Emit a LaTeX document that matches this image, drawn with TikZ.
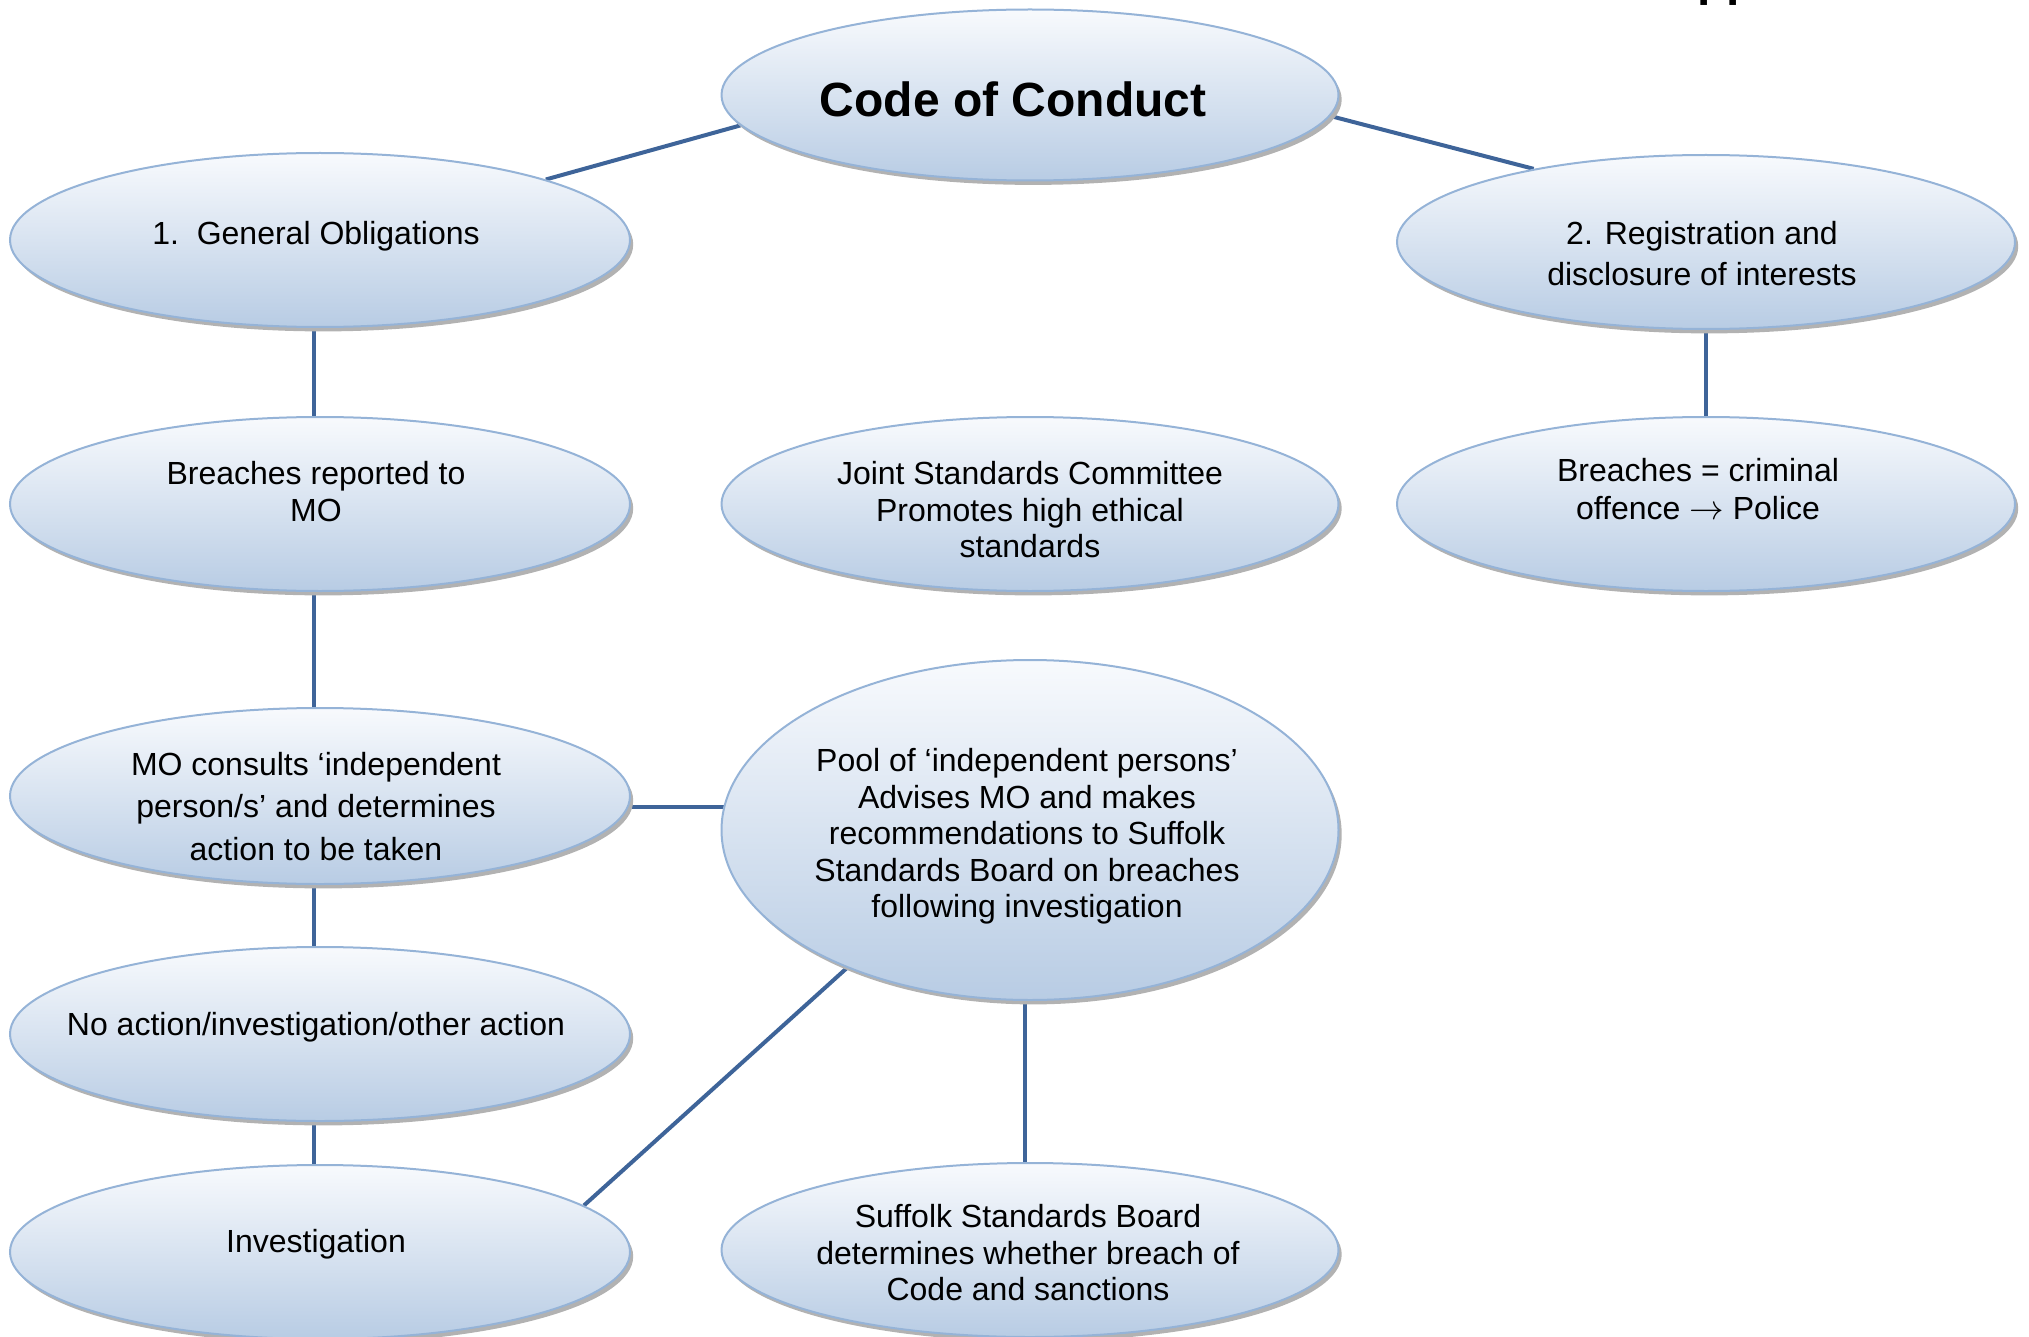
\documentclass[tikz,border=0pt]{standalone}
\usepackage{fontspec}
\setmainfont{Liberation Sans}
\usetikzlibrary{shapes.geometric,shadows,backgrounds}
\definecolor{elborder}{HTML}{95B3D7}
\definecolor{eltop}{HTML}{F8FAFD}
\definecolor{elbot}{HTML}{B8CCE4}
\definecolor{conn}{HTML}{3E6499}
\tikzset{
  bubble/.style={ellipse, draw=elborder, line width=1pt, top color=eltop, bottom color=elbot,
    inner sep=0pt, minimum width=309pt, minimum height=87pt,
    drop shadow={shadow xshift=1.6pt, shadow yshift=-2.2pt, fill=gray!60, opacity=1}},
  txt/.style={inner sep=0pt, align=center, font=\fontsize{16}{18.3}\selectfont},
  bigtxt/.style={inner sep=0pt, align=center, font=\bfseries\fontsize{24}{28}\selectfont},
  link/.style={draw=conn, line width=2pt}
}
\begin{document}
\begin{tikzpicture}[x=0.5pt,y=-0.5pt]
\useasboundingbox (0,0) rectangle (2029,1337);
\begin{scope}
\clip (0,0) rectangle (2029,1337);
\node[bigtxt, anchor=base west] (app) at (1662,-4) {Appendix};
\end{scope}
% ellipses
\node[bubble, minimum width=308.5pt, minimum height=85.5pt] (code) at (1030,95) {};
\node[bubble, minimum width=310pt] (gen) at (320,240) {};
\node[bubble] (reg) at (1706,242) {};
\node[bubble, minimum width=310pt] (brep) at (320,504) {};
\node[bubble, minimum width=308.5pt] (jsc) at (1030,504) {};
\node[bubble] (crim) at (1706,504) {};
\node[bubble, minimum width=310pt, minimum height=88pt] (mo) at (320,796) {};
\node[bubble, minimum width=308.5pt, minimum height=170pt] (pool) at (1030,830) {};
\node[bubble, minimum width=310pt] (noact) at (320,1034) {};
\node[bubble, minimum width=310pt] (inv) at (320,1252) {};
\node[bubble, minimum width=308.5pt] (ssb) at (1030,1250) {};
% texts
\node[bigtxt] (code-t) at ([xshift=-8.4pt,yshift=-2pt]code.center) {Code of Conduct};
\node[txt] (gen-t) at ([xshift=-2pt,yshift=2pt]gen.center) {1.\ \ General Obligations};
\node[txt, font=\fontsize{16}{20.7}\selectfont] (reg-t) at ([xshift=-2pt,yshift=-5.8pt]reg.center) {2. Registration and\\disclosure of interests};
\node[txt] (brep-t) at ([xshift=-2pt,yshift=6.1pt]brep.center) {Breaches reported to\\MO};
\node[txt] (jsc-t) at ([yshift=-2.9pt]jsc.center) {Joint Standards Committee\\Promotes high ethical\\standards};
\node[txt, font=\fontsize{16}{19}\selectfont] (crim-t) at ([xshift=-4pt,yshift=7.4pt]crim.center) {Breaches = criminal\\offence $\rightarrow$ Police};
\node[txt, font=\fontsize{16}{21.3}\selectfont] (mo-t) at ([xshift=-2pt,yshift=-5.2pt]mo.center) {MO consults ‘independent\\person/s’ and determines\\action to be taken};
\node[txt] (pool-t) at ([xshift=-1.5pt,yshift=-3.2pt]pool.center) {Pool of ‘independent persons’\\Advises MO and makes\\recommendations to Suffolk\\Standards Board on breaches\\following investigation};
\node[txt] (noact-t) at ([xshift=-2pt,yshift=3.2pt]noact.center) {No action/investigation/other action};
\node[txt] (inv-t) at ([xshift=-2pt,yshift=3.9pt]inv.center) {Investigation};
\node[txt] (ssb-t) at ([xshift=-1pt,yshift=-1.3pt]ssb.center) {Suffolk Standards Board\\determines whether breach of\\Code and sanctions};
% connectors
\begin{scope}[on background layer]
\draw[link] (code.186.6) -- (gen.15.3);
\draw[link] (code.-4.6) -- (reg.157.4);
\draw[link] ([xshift=-3pt]gen.center) -- ([xshift=-3pt]brep.center);
\draw[link] (reg.center) -- (crim.center);
\draw[link] ([xshift=-3pt]brep.center) -- ([xshift=-3pt]mo.center);
\draw[link] (mo.-2.3) -- (mo.-2.3 -| pool.center);
\draw[link] ([xshift=-3pt]mo.center) -- ([xshift=-3pt]noact.center);
\draw[link] ([xshift=-3pt]noact.center) -- ([xshift=-3pt]inv.center);
\draw[link] (inv.10.7) -- (pool.217);
\draw[link] ([xshift=-2.5pt]pool.center) -- ([xshift=-2.5pt]ssb.center);
\end{scope}
\end{tikzpicture}
\end{document}
